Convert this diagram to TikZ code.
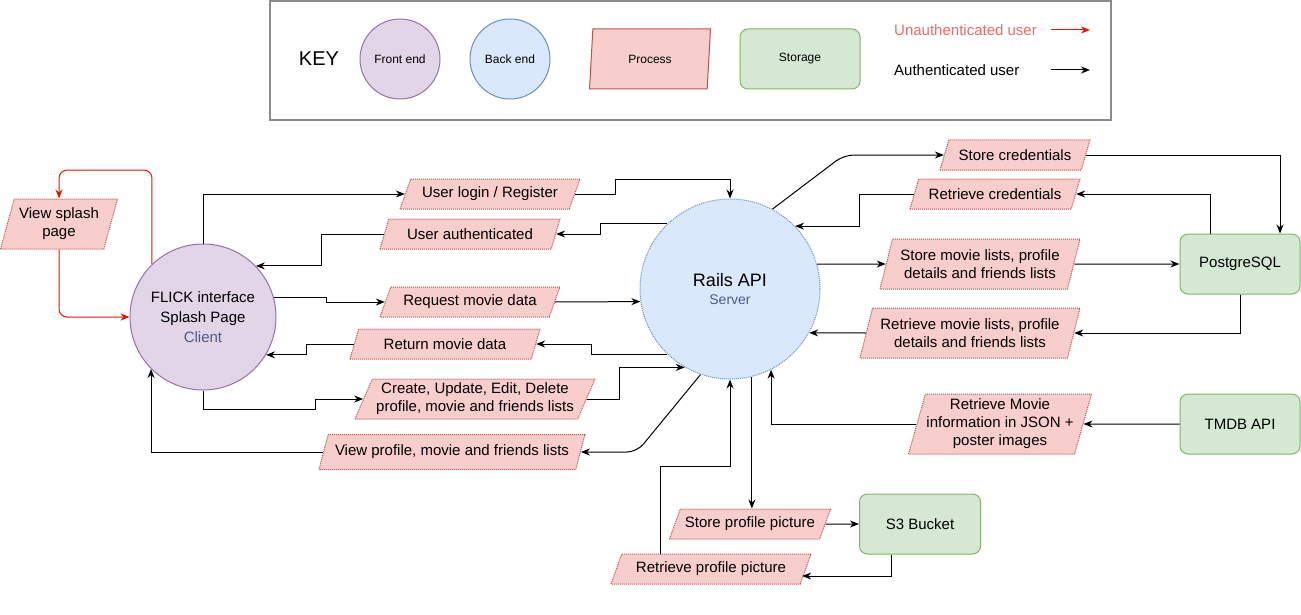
\documentclass[tikz,border=0pt]{standalone}
\usepackage{fontspec}
\setmainfont{Liberation Sans}
\usetikzlibrary{shapes.geometric,arrows.meta}

\definecolor{procfill}{HTML}{F8CECC}
\definecolor{procline}{HTML}{B85450}
\definecolor{storefill}{HTML}{D5E8D4}
\definecolor{storeline}{HTML}{82B366}
\definecolor{frontfill}{HTML}{E1D5E7}
\definecolor{frontline}{HTML}{9673A6}
\definecolor{backfill}{HTML}{DAE8FC}
\definecolor{backline}{HTML}{6C8EBF}
\definecolor{subtext}{HTML}{4D5A8A}
\definecolor{unauthtext}{HTML}{EA6B66}
\definecolor{unauthline}{HTML}{E51400}
\definecolor{keyframe}{HTML}{8C8C8C}

\newcommand{\diagsize}{\fontsize{15}{18}\selectfont}
\newcommand{\legendsize}{\fontsize{12}{14}\selectfont}

\tikzset{
  proc/.code={\pgfmathsetmacro\procright{180-#1}%
    \pgfkeysalso{shape=trapezium, trapezium left angle=#1, trapezium right angle=\procright,
      trapezium stretches body=true, draw=procline, densely dotted, fill=procfill,
      line width=1pt, inner sep=1pt, align=center, font=\diagsize}},
  store/.style={rectangle, rounded corners=8pt, draw=storeline, fill=storefill, line width=1pt,
    minimum width=120pt, minimum height=60pt, font=\diagsize},
  front/.style={circle, draw=frontline, fill=frontfill, line width=1pt, align=center, inner sep=0pt, font=\diagsize},
  back/.style={circle, draw=backline, fill=backfill, line width=1pt, align=center, inner sep=0pt, font=\diagsize},
  auth/.style={->, draw=black, line width=1pt},
  unauth/.style={->, draw=unauthline, line width=1pt, rounded corners=8pt},
  >={Stealth[length=9pt,width=7pt]}
}

\begin{document}
\begin{tikzpicture}[x=1pt,y=-1pt]
\useasboundingbox (0,0) rectangle (1301,615);

% key
\node[draw=keyframe, line width=1.5pt, minimum width=841pt, minimum height=119pt] (keybox) at (690.5,60.5) {};
\node[font=\fontsize{20}{24}\selectfont] (keytitle) at (319,59) {KEY};
\node[front, minimum size=80pt, font=\legendsize] (keyfront) at (400,59) {Front end};
\node[back, minimum size=80pt, font=\legendsize] (keyback) at (510,59) {Back end};
\node[proc=72, solid, minimum width=121pt, minimum height=60pt, font=\legendsize] (keyproc) at (650,59) {Process};
\node[store, font=\legendsize] (keystore) at (800,59) {Storage};
\node[anchor=west, inner sep=0pt, text=unauthtext, font=\diagsize] (keyunauth) at (894,30) {Unauthenticated user};
\node[anchor=west, inner sep=0pt, font=\diagsize] (keyauth) at (894,70) {Authenticated user};
\coordinate (ku1) at (1051,30);
\coordinate (ku2) at (1090,30);
\coordinate (ka1) at (1051,70);
\coordinate (ka2) at (1090,70);
\draw[unauth] (ku1) -- (ku2);
\draw[auth] (ka1) -- (ka2);

% front end and back end
\node[front, minimum size=146pt, font=\fontsize{15}{20}\selectfont] (client) at (203,317) {FLICK interface\\Splash Page\\\textcolor{subtext}{Client}};
\node[back, densely dotted, minimum size=180pt] (rails) at (730,289) {{\fontsize{18}{20}\selectfont Rails API}\\{\fontsize{14}{16}\selectfont\color{subtext}Server}};

% processes
\node[proc=68, minimum width=117pt, minimum height=50pt] (splash) at (59,224) {View splash\\page};
\node[proc=56, minimum width=180pt, minimum height=30pt] (login) at (490,194) {User login / Register};
\node[proc=56, minimum width=180pt, minimum height=30pt] (authd) at (470,234) {User authenticated};
\node[proc=56, minimum width=180pt, minimum height=30pt] (reqdata) at (470,302) {Request movie data};
\node[proc=56, minimum width=190pt, minimum height=30pt] (retdata) at (445,344) {Return movie data};
\node[proc=63, minimum width=240pt, minimum height=40pt] (crud) at (475,399) {Create, Update, Edit, Delete\\profile, movie and friends lists};
\node[proc=60, minimum width=266pt, minimum height=35pt] (viewlists) at (452,452) {View profile, movie and friends lists};
\node[proc=56, minimum width=150pt, minimum height=30pt] (storecred) at (1015,155) {Store credentials};
\node[proc=56, minimum width=170pt, minimum height=30pt] (getcred) at (995,194) {Retrieve credentials};
\node[proc=68, minimum width=200pt, minimum height=50pt] (storelists) at (980,264) {Store movie lists, profile\\details and friends lists};
\node[proc=68, minimum width=220pt, minimum height=50pt] (getlists) at (970,333) {Retrieve movie lists, profile\\details and friends lists};
\node[proc=72, minimum width=180pt, minimum height=60pt] (getmovie) at (1000,424) {Retrieve Movie\\information in JSON +\\poster images};
\node[proc=56, minimum width=161pt, minimum height=30pt] (storepic) at (750,524) {Store profile picture};
\node[proc=56, minimum width=200pt, minimum height=30pt] (getpic) at (711,569) {Retrieve profile picture};

% storage
\node[store] (postgres) at (1240,264) {PostgreSQL};
\node[store] (tmdb) at (1240,424) {TMDB API};
\node[store, minimum width=121pt] (s3) at (920,524) {S3 Bucket};

% unauthenticated flow
\draw[unauth] (client.134) -- ++(0,-94) -| (splash.north);
\draw[unauth] (splash.south) |- (client.west);

% client side
\draw[auth] (client.north) |- (login.west);
\draw[auth] (login.east) -- ++(40,0) -- ++(0,-15) -| (rails.north);
\draw[auth] (rails.134) -- ++(-67,0) |- (authd.east);
\draw[auth] (authd.west) -- ++(-62,0) |- (client.44);
\draw[auth] (client.15) -- ++(53,0) |- (reqdata.west);
\draw[auth] (reqdata.east) -- (rails.188);
\draw[auth] (rails.226) -- ++(-76,0) |- (retdata.east);
\draw[auth] (retdata.west) -- ++(-47,0) |- (client.-31);
\draw[auth] (client.south) -- ++(0,19) -- ++(112,0) |- (crud.west);
\draw[auth] (crud.east) -- ++(33,0) |- (rails.240);
\draw[auth, rounded corners=10pt] (rails.251) -- ([xshift=56pt]viewlists.east) -- (viewlists.east);
\draw[auth] (viewlists.west) -| (client.-135);

% server side
\draw[auth, rounded corners=10pt] (rails.62) -- ([xshift=-100pt]storecred.west) -- (storecred.west);
\draw[auth] (storecred.east) -| ([xshift=40pt]postgres.north);
\draw[auth] ([xshift=-30pt]postgres.north) |- (getcred.east);
\draw[auth] (getcred.west) -- ++(-54,0) |- (rails.44);
\draw[auth] (rails.16) -- (storelists.west);
\draw[auth] (storelists.east) -- (postgres.west);
\draw[auth] (postgres.south) |- (getlists.east);
\draw[auth] (getlists.west) -- (rails.-29);
\draw[auth] (tmdb.west) -- (getmovie.east);
\draw[auth] (getmovie.west) -| (rails.-63);
\draw[auth] (rails.-76) -- (rails.-76 |- storepic.north);
\draw[auth] (storepic.east) -- (s3.west);
\draw[auth] ([xshift=-29pt]s3.south) |- ([xshift=-4pt,yshift=-7pt]getpic.east);
\draw[auth] ([xshift=-51pt]getpic.north) -- ++(0,-87) -| (rails.south);
\end{tikzpicture}
\end{document}
